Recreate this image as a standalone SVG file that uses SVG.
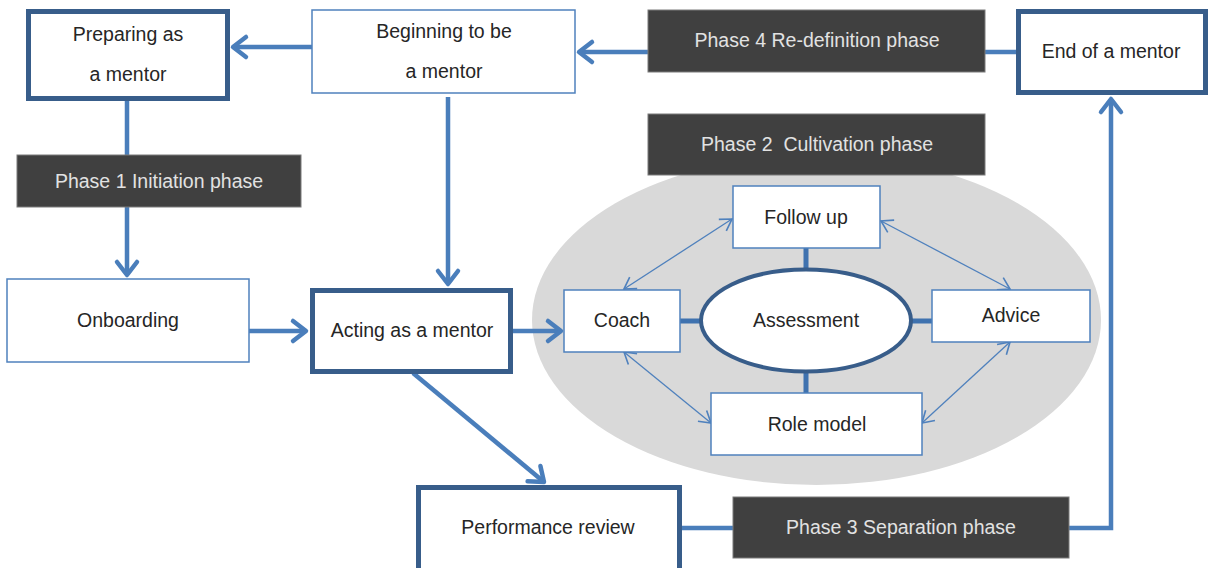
<svg xmlns="http://www.w3.org/2000/svg" width="1214" height="568" viewBox="0 0 1214 568">
<defs>
<style>
.t{font-family:"Liberation Sans",Arial,sans-serif;font-size:19.5px;fill:#262626;text-anchor:middle}
.pt{font-family:"Liberation Sans",Arial,sans-serif;font-size:19.5px;fill:#e2e2e2;text-anchor:middle;white-space:pre}
.thick{fill:#fff;stroke:#385d8a;stroke-width:5}
.thin{fill:#fff;stroke:#4f81bd;stroke-width:1.5}
.phase{fill:#404040;stroke:#7a7a7a;stroke-width:1}
.c{fill:none;stroke:#4a7ebb;stroke-width:4.5}
.cs{fill:none;stroke:#3f72af;stroke-width:5}
.ct{fill:none;stroke:#4f81bd;stroke-width:1.3}
</style>
<marker id="ah" markerUnits="userSpaceOnUse" markerWidth="30" markerHeight="30" viewBox="-20 -15 25 30" refX="0" refY="0" orient="auto">
<path d="M-13,-10 L0,0 L-13,10" fill="none" stroke="#4a7ebb" stroke-width="4.5" stroke-linecap="round" stroke-linejoin="round"/>
</marker>
<marker id="at" markerUnits="userSpaceOnUse" markerWidth="20" markerHeight="20" viewBox="-12 -8 14 16" refX="0" refY="0" orient="auto-start-reverse">
<path d="M-9,-5.5 L0,0 L-9,5.5" fill="none" stroke="#4f81bd" stroke-width="1.3"/>
</marker>
</defs>
<rect width="1214" height="568" fill="#fff"/>
<ellipse id="cultivation-area" cx="816.5" cy="320" rx="284.5" ry="165" fill="#d9d9d9"/>
<g id="connectors">
<path class="c" d="M312,47 L233,47" marker-end="url(#ah)"/>
<path class="c" d="M648,52 L579,52" marker-end="url(#ah)"/>
<path class="c" d="M985,52 L1016,52"/>
<path class="c" d="M127,100 L127,275" marker-end="url(#ah)"/>
<path class="c" d="M448,97 L448,284" marker-end="url(#ah)"/>
<path class="c" d="M249,331 L306,331" marker-end="url(#ah)"/>
<path class="c" d="M513,331 L561,331" marker-end="url(#ah)"/>
<path class="c" d="M413,373 L544,482" marker-end="url(#ah)"/>
<path class="c" d="M682,528 L733,528"/>
<path class="c" d="M1069,528 L1111,528 L1111,99" marker-end="url(#ah)"/>
<path class="cs" d="M806,248 L806,270 M806,371 L806,393 M680,321 L702,321 M910,321 L932,321"/>
<path class="ct" d="M624,289 L732,219" marker-start="url(#at)" marker-end="url(#at)"/>
<path class="ct" d="M881,221 L1010,289" marker-start="url(#at)" marker-end="url(#at)"/>
<path class="ct" d="M624,352 L711,423" marker-start="url(#at)" marker-end="url(#at)"/>
<path class="ct" d="M1010,342 L922,423" marker-start="url(#at)" marker-end="url(#at)"/>
</g>
<g id="preparing"><rect class="thick" x="28.5" y="11.5" width="199" height="87"/><text class="t" x="128" y="41">Preparing as</text><text class="t" x="128" y="81">a mentor</text></g>
<g id="beginning"><rect class="thin" x="312" y="10" width="263" height="83"/><text class="t" x="444" y="38">Beginning to be</text><text class="t" x="444" y="78">a mentor</text></g>
<g id="phase4"><rect class="phase" x="648" y="10" width="337" height="62"/><text class="pt" x="817" y="47">Phase 4 Re-definition phase</text></g>
<g id="end"><rect class="thick" x="1018.5" y="11.5" width="187" height="81"/><text class="t" x="1111" y="58">End of a mentor</text></g>
<g id="phase1"><rect class="phase" x="17" y="155" width="284" height="52"/><text class="pt" x="159" y="188">Phase 1 Initiation phase</text></g>
<g id="phase2"><rect class="phase" x="648" y="114" width="337" height="61"/><text class="pt" x="817" y="151">Phase 2  Cultivation phase</text></g>
<g id="followup"><rect class="thin" x="733" y="186" width="147" height="62"/><text class="t" x="806" y="224">Follow up</text></g>
<g id="coach"><rect class="thin" x="564" y="290" width="116" height="62"/><text class="t" x="622" y="327">Coach</text></g>
<g id="assessment"><ellipse cx="806" cy="320.5" rx="105" ry="51" fill="#fff" stroke="#385d8a" stroke-width="4"/><text class="t" x="806" y="327">Assessment</text></g>
<g id="advice"><rect class="thin" x="932" y="290" width="158" height="52"/><text class="t" x="1011" y="322">Advice</text></g>
<g id="rolemodel"><rect class="thin" x="711" y="393" width="211" height="62"/><text class="t" x="817" y="431">Role model</text></g>
<g id="onboarding"><rect class="thin" x="7" y="279" width="242" height="83"/><text class="t" x="128" y="327">Onboarding</text></g>
<g id="acting"><rect class="thick" x="312.5" y="290.5" width="198" height="81"/><text class="t" x="412" y="337">Acting as a mentor</text></g>
<g id="performance"><rect class="thick" x="418.5" y="487.5" width="261" height="90"/><text class="t" x="548" y="534">Performance review</text></g>
<g id="phase3"><rect class="phase" x="733" y="497" width="336" height="61"/><text class="pt" x="901" y="534">Phase 3 Separation phase</text></g>
</svg>
